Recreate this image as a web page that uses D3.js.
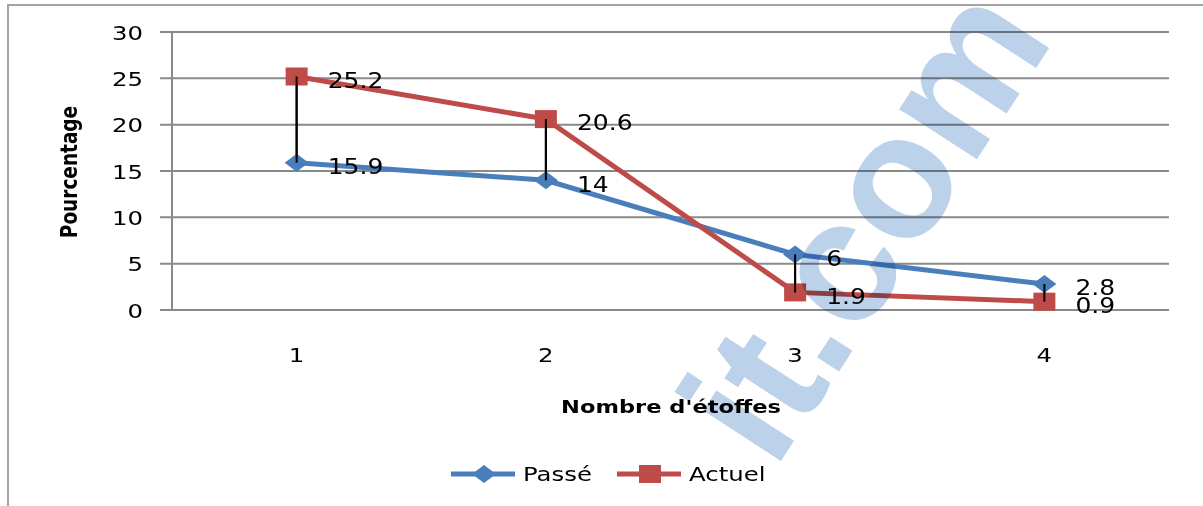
<!DOCTYPE html>
<html>
<head>
<meta charset="utf-8">
<script src="https://cdn.jsdelivr.net/npm/d3@7"></script>
<style>
  body { margin: 0; background: #fff; }
  svg { display: block; font-family: "DejaVu Sans", sans-serif; }
  .wm { mix-blend-mode: multiply; }
</style>
</head>
<body>
<div id="chart"></div>
<script>
// data
var categories = ["1", "2", "3", "4"];
var passe = [15.9, 14, 6, 2.8];
var actuel = [25.2, 20.6, 1.9, 0.9];
var yTicks = [0, 5, 10, 15, 20, 25, 30];
var seriesNames = ["Passé", "Actuel"];

var svgWidth = 1203, svgHeight = 506;
var plot = { left: 172, right: 1169, top: 32, bottom: 310 };
var sx = 1.22; // the source chart was stretched horizontally

var blue = "#4a7ebb", red = "#be4b48", grid = "#8a8a8a";

var svg = d3.select("#chart").append("svg")
    .attr("width", svgWidth)
    .attr("height", svgHeight);

// outer chart frame
svg.append("rect")
    .attr("x", 8).attr("y", 5)
    .attr("width", 1210).attr("height", 520)
    .attr("fill", "#fff")
    .attr("stroke", "#a3a3a3")
    .attr("stroke-width", 2);

var x = d3.scaleBand().domain(categories).range([plot.left, plot.right]);
var y = d3.scaleLinear().domain([0, 30]).range([plot.bottom, plot.top]);
var cx = function (i) { return x(categories[i]) + x.bandwidth() / 2; };

// horizontal gridlines
svg.append("g").selectAll("line")
    .data(yTicks)
    .enter()
    .append("line")
    .attr("x1", plot.left - 12)
    .attr("x2", plot.right)
    .attr("y1", d => y(d))
    .attr("y2", d => y(d))
    .attr("stroke", grid)
    .attr("stroke-width", 2);

// vertical axis line
svg.append("line")
    .attr("x1", plot.left).attr("x2", plot.left)
    .attr("y1", plot.top).attr("y2", plot.bottom)
    .attr("stroke", grid)
    .attr("stroke-width", 2);

// y axis labels
var yAxis = svg.append("g")
    .attr("transform", `translate(${plot.left}, 0)`)
    .call(d3.axisLeft(y).tickValues(yTicks).tickSize(0));
yAxis.select(".domain").remove();
yAxis.selectAll("text")
    .attr("x", 0)
    .attr("dy", "0.36em")
    .attr("transform", `translate(-29, 0) scale(${sx}, 1)`)
    .style("font-size", "20px")
    .style("font-family", "DejaVu Sans")
    .attr("fill", "#000");

// x axis labels
var xAxis = svg.append("g")
    .attr("transform", `translate(0, ${plot.bottom})`)
    .call(d3.axisBottom(x).tickSize(0));
xAxis.select(".domain").remove();
xAxis.selectAll("text")
    .attr("y", 0)
    .attr("dy", 0)
    .attr("transform", `translate(0, 52) scale(${sx}, 1)`)
    .style("font-size", "20px")
    .style("font-family", "DejaVu Sans")
    .attr("fill", "#000");

// axis titles
svg.append("text")
    .attr("transform", `translate(77, 172) rotate(-90) scale(1, ${sx})`)
    .attr("text-anchor", "middle")
    .style("font-size", "18.5px")
    .style("font-weight", "bold")
    .text("Pourcentage");

svg.append("text")
    .attr("transform", `translate(671, 413) scale(${sx}, 1)`)
    .attr("text-anchor", "middle")
    .style("font-size", "18.5px")
    .style("font-weight", "bold")
    .text("Nombre d'étoffes");

// high-low lines
svg.append("g").selectAll("line")
    .data(categories)
    .enter()
    .append("line")
    .attr("x1", (d, i) => cx(i))
    .attr("x2", (d, i) => cx(i))
    .attr("y1", (d, i) => y(actuel[i]))
    .attr("y2", (d, i) => y(passe[i]))
    .attr("stroke", "#000")
    .attr("stroke-width", 2);

var line = d3.line()
    .x((d, i) => cx(i))
    .y(d => y(d));

svg.append("path")
    .datum(passe)
    .attr("d", line)
    .attr("fill", "none")
    .attr("stroke", blue)
    .attr("stroke-width", 5);

svg.append("path")
    .datum(actuel)
    .attr("d", line)
    .attr("fill", "none")
    .attr("stroke", red)
    .attr("stroke-width", 5);

function diamond(g, px, py) {
    g.append("path")
        .attr("d", `M${px - 12},${py} L${px},${py - 9} L${px + 12},${py} L${px},${py + 9} Z`)
        .attr("fill", blue);
}
function square(g, px, py) {
    g.append("rect")
        .attr("x", px - 11).attr("y", py - 9)
        .attr("width", 22).attr("height", 18)
        .attr("fill", red);
}

var marks = svg.append("g");
passe.forEach(function (v, i) { diamond(marks, cx(i), y(v)); });
actuel.forEach(function (v, i) { square(marks, cx(i), y(v)); });

// the high-low lines show over the markers
marks.selectAll(null)
    .data(categories)
    .enter()
    .append("line")
    .attr("x1", (d, i) => cx(i))
    .attr("x2", (d, i) => cx(i))
    .attr("y1", (d, i) => y(actuel[i]))
    .attr("y2", (d, i) => y(passe[i]))
    .attr("stroke", "#000")
    .attr("stroke-width", 2);

// data labels
function labels(values) {
    svg.append("g").selectAll("text")
        .data(values)
        .enter()
        .append("text")
        .attr("transform", (d, i) => `translate(${cx(i) + 31}, ${y(d) + 4}) scale(${sx}, 1)`)
        .attr("dy", "0.36em")
        .style("font-size", "20.5px")
        .text(d => d);
}
labels(passe);
labels(actuel);

// legend
var legend = svg.append("g");
var legendX = [451, 617];
seriesNames.forEach(function (name, i) {
    var lx = legendX[i], ly = 474;
    var col = i === 0 ? blue : red;
    legend.append("line")
        .attr("x1", lx).attr("x2", lx + 64)
        .attr("y1", ly).attr("y2", ly)
        .attr("stroke", col)
        .attr("stroke-width", 5);
    if (i === 0) diamond(legend, lx + 33, ly);
    else square(legend, lx + 33, ly);
    legend.append("text")
        .attr("transform", `translate(${lx + 72}, ${ly}) scale(${sx}, 1)`)
        .attr("dy", "0.36em")
        .style("font-size", "20px")
        .text(name);
});

// faint watermark that sits over the chart
svg.append("text")
    .attr("class", "wm")
    .attr("transform", "translate(1055, 39) rotate(-57)")
    .attr("text-anchor", "end")
    .attr("fill", "#bcd2ea")
    .style("font-family", "Liberation Sans")
    .style("font-weight", "bold")
    .style("font-size", "175px")
    .text("it.com");
</script>
</body>
</html>
